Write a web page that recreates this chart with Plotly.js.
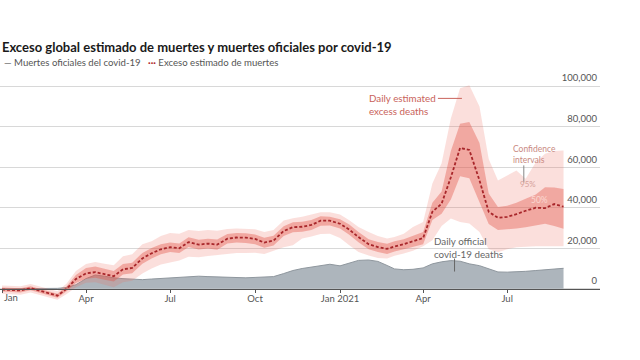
<!DOCTYPE html>
<html><head><meta charset="utf-8">
<script src="https://cdn.plot.ly/plotly-3.0.1.min.js"></script>
<style>html,body{margin:0;padding:0;background:#fff}#chart{width:640px;height:360px}</style>
</head><body><div id="chart"></div>
<script>
const dates = ["2020-01-01","2020-01-11","2020-01-21","2020-02-01","2020-02-11","2020-02-21","2020-03-01","2020-03-11","2020-03-21",
"2020-04-01","2020-04-11","2020-04-21","2020-05-01","2020-05-11","2020-05-21","2020-06-01","2020-06-11","2020-06-21",
"2020-07-01","2020-07-11","2020-07-21","2020-08-01","2020-08-11","2020-08-21","2020-09-01","2020-09-11","2020-09-21",
"2020-10-01","2020-10-11","2020-10-21","2020-11-01","2020-11-11","2020-11-21","2020-12-01","2020-12-11","2020-12-21",
"2021-01-01","2021-01-11","2021-01-21","2021-02-01","2021-02-11","2021-02-21","2021-03-01","2021-03-11","2021-03-21",
"2021-04-01","2021-04-11","2021-04-21","2021-05-01","2021-05-11","2021-05-21","2021-06-01","2021-06-11","2021-06-21",
"2021-07-01","2021-07-11","2021-07-21","2021-08-01","2021-08-11","2021-08-21","2021-08-31"];
// Daily estimated excess deaths (central estimate)
const excess = [-400,-500,-800,300,-1000,-2200,-3400,0,4800,
7600,8200,7200,6200,9600,10300,15000,17500,19500,
20500,20000,23000,21800,22300,21800,24700,25300,25200,
24600,22800,23800,28500,30400,30600,31500,33600,33600,
32100,29200,25500,22000,20600,19700,20900,22000,23500,
25000,38000,42000,55000,69500,68500,53500,38000,35000,
35500,36800,38500,40000,39800,41800,40500];
// 50% confidence interval
const ci50Lo = [-1400,-1500,-1800,-700,-2000,-3200,-4400,-1200,2800,
5000,5400,4500,3600,7000,7700,12300,14900,17000,
18200,17600,20600,19400,19900,19300,22300,22800,22600,
22000,20300,21300,26000,27900,28100,29000,31100,31200,
29700,26700,23000,19500,18100,17200,18400,19500,20800,
22000,34000,37000,44000,55500,54500,42700,32000,29000,
29300,29800,30400,31200,32100,31000,29600];
const ci50Hi = [600,500,200,1300,0,-1200,-2400,1200,6800,
10200,11000,9900,8800,12200,12900,17700,20100,22000,
22800,22400,25400,24200,24700,24300,27000,27500,27400,
26800,25200,26200,30900,32800,33100,34000,35800,35600,
34300,31700,28000,24500,23100,22200,23400,24500,26200,
28000,42500,48000,68000,81500,82300,72000,47000,40300,
41000,42500,44400,46500,50100,50000,49300];
// 95% confidence interval
const ci95Lo = [-2400,-2500,-2900,-1800,-3100,-4300,-5400,-2600,800,
3000,3200,2000,800,3200,4000,7500,10000,12000,
13000,14000,15800,15600,16200,16600,17400,17600,17600,
17800,17200,18800,20500,21500,24800,25800,27000,27200,
25000,21500,18200,16400,15200,14900,16300,17400,18800,
21000,24000,31000,34700,33000,32200,28000,19500,18000,
19500,20500,20800,21000,21000,21000,21000];
const ci95Hi = [1600,1500,1200,2300,1100,-100,-1200,2600,8800,
12200,13200,12400,11600,16000,17000,22000,23500,26000,
27500,27200,29000,28500,29000,28600,29500,29800,29700,
29400,28000,29000,33700,34800,35500,36800,37800,37800,
36600,33800,30500,28000,26000,24800,25500,27200,30500,
33000,52000,62000,84000,99000,100400,90000,64000,53400,
56000,58400,54300,62500,66600,68000,68300];
// Daily official covid-19 deaths
const official = [0,0,100,100,100,100,200,600,2000,
5000,6800,6200,5400,5000,4700,4500,4800,5100,
5200,5600,6000,6200,6000,5800,5600,5700,5400,
5600,5700,6000,7500,9000,10000,10800,11500,12100,
11300,12800,14000,14200,13500,11500,9800,9400,9600,
10300,12300,13300,13900,13600,12300,11400,9800,8300,
8200,8300,8600,9000,9400,9800,10100];
const tickVals = ["2020-04-01","2020-07-01","2020-10-01","2021-01-01","2021-04-01","2021-07-01"];
const tickText = ["Apr","Jul","Oct","Jan 2021","Apr","Jul"];
const firstTickVal = "2020-01-01";
const firstTickText = "Jan";
const yTicks = [0,20000,40000,60000,80000,100000];
const yTickText = ["0","20,000","40,000","60,000","80,000","100,000"];

const FONT = "Lato, 'Open Sans', sans-serif";
const traces = [
  {x: dates, y: official, type:'scatter', mode:'lines', fill:'tozeroy', fillcolor:'#adb5bc', line:{color:'#8f979e', width:1}, hoverinfo:'skip'},
  {x: dates, y: ci95Lo, type:'scatter', mode:'lines', line:{width:0, color:'rgba(0,0,0,0)'}, hoverinfo:'skip'},
  {x: dates, y: ci95Hi, type:'scatter', mode:'lines', fill:'tonexty', fillcolor:'rgba(238,110,95,0.22)', line:{width:0, color:'rgba(0,0,0,0)'}, hoverinfo:'skip'},
  {x: dates, y: ci50Lo, type:'scatter', mode:'lines', line:{width:0, color:'rgba(0,0,0,0)'}, hoverinfo:'skip'},
  {x: dates, y: ci50Hi, type:'scatter', mode:'lines', fill:'tonexty', fillcolor:'rgba(226,80,66,0.38)', line:{width:0, color:'rgba(0,0,0,0)'}, hoverinfo:'skip'},
  {x: dates, y: excess, type:'scatter', mode:'lines', line:{color:'#a8262a', width:1.8, dash:'3px,2px'}, hoverinfo:'skip'}
];
const legY = 1 + (74 - 62) / 233;
const layout = {
  width:640, height:360, showlegend:false,
  paper_bgcolor:'#fff', plot_bgcolor:'#fff',
  margin:{l:0, r:40, t:74, b:53},
  font:{family:FONT, color:'#555', size:10},
  title:{text:'<b>Exceso global estimado de muertes y muertes oficiales por covid-19</b>', xref:'container', yref:'container', x:0.003, xanchor:'left', y:1-47/360, yanchor:'middle', font:{family:FONT, size:13, color:'#1a1a1a'}},
  xaxis:{type:'date', range:['2019-12-29 20:00','2021-10-09 12:00'], anchor:'free', position:9000/115000,
    tickvals:[firstTickVal].concat(tickVals), ticktext:[''].concat(tickText), showgrid:false, zeroline:false, showline:true, linecolor:'#555', linewidth:1.5,
    ticks:'outside', ticklen:3, tickcolor:'#555', tickfont:{size:9.5, color:'#555'}, ticklabeloverflow:'allow', ticklabelstandoff:-3, fixedrange:true},
  yaxis:{range:[-9000,106000], side:'right', tickvals:yTicks, ticktext:yTickText, ticklabelposition:'inside', ticklabelshift:-8, ticklabeloverflow:'allow',
    showgrid:true, gridcolor:'#d8d8d8', gridwidth:1, zeroline:false, showline:false, ticks:'', tickfont:{size:9.5, color:'#555'}, fixedrange:true},
  annotations:[
    {xref:'paper', yref:'paper', x:2/600, y:legY, text:'<span style="color:#666">—</span> Muertes oficiales del covid-19', showarrow:false, xanchor:'left', yanchor:'middle', font:{size:9.6, color:'#555'}},
    {xref:'paper', yref:'paper', x:146/600, y:legY, text:'<span style="color:#b0282c"><b>···</b></span> Exceso estimado de muertes', showarrow:false, xanchor:'left', yanchor:'middle', font:{size:9.6, color:'#555'}},
    {xref:'paper', yref:'paper', x:2/600, y:(233-(297-74))/233, text:firstTickText, showarrow:false, xanchor:'left', yanchor:'middle', font:{size:9.5, color:'#555'}},
    {xref:'x', yref:'y', x:'2021-01-30', y:91000, text:'Daily estimated<br>excess deaths', showarrow:false, xanchor:'left', yanchor:'middle', align:'left', font:{size:9.8, color:'#c9625a'}},
    {xref:'x', yref:'y', x:'2021-07-05', y:66300, text:'Confidence<br>intervals', showarrow:false, xanchor:'left', yanchor:'middle', align:'left', font:{size:8.5, color:'#c98a82'}},
    {xref:'x', yref:'y', x:'2021-07-23', y:51500, text:'95%', showarrow:false, xanchor:'center', yanchor:'middle', font:{size:8, color:'#d5a19a'}},
    {xref:'x', yref:'y', x:'2021-08-05', y:44000, text:'50%', showarrow:false, xanchor:'center', yanchor:'middle', font:{size:8.5, color:'#fbd8d2'}},
    {xref:'x', yref:'y', x:'2021-04-11', y:20350, text:'Daily official<br>covid-19 deaths', showarrow:false, xanchor:'left', yanchor:'middle', align:'left', font:{size:9.8, color:'#666'}}
  ],
  shapes:[
    {type:'line', xref:'x', yref:'y', x0:'2021-04-17', x1:'2021-05-13', y0:93960, y1:93960, line:{color:'#c9625a', width:1}},
    {type:'line', xref:'x', yref:'y', x0:'2021-07-19', x1:'2021-07-19', y0:60900, y1:52500, line:{color:'#888', width:1}},
    {type:'line', xref:'x', yref:'y', x0:'2021-05-05', x1:'2021-05-05', y0:14900, y1:8500, line:{color:'#666', width:1}}
  ]
};
Plotly.newPlot('chart', traces, layout, {displayModeBar:false, staticPlot:true});
</script></body></html>
